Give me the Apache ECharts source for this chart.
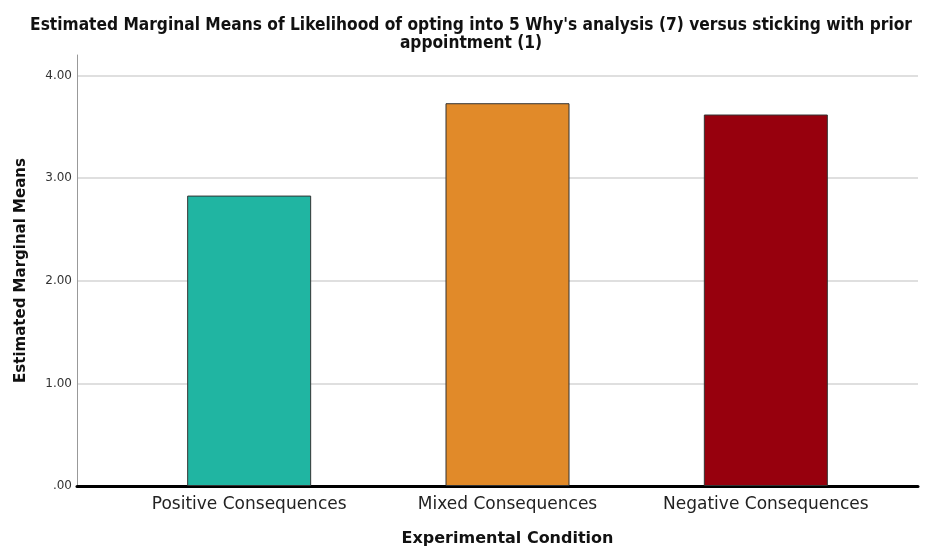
<!DOCTYPE html>
<html><head><meta charset="utf-8">
<script src="https://cdn.jsdelivr.net/npm/echarts@6/dist/echarts.min.js"></script>
<style>html,body{margin:0;padding:0;background:#fff}#c{width:927px;height:550px}</style>
</head><body><div id="c"></div>
<script>
const categories = ["Positive Consequences", "Mixed Consequences", "Negative Consequences"];
const values = [2.83, 3.73, 3.62];
const colors = ["#20b5a2", "#e18a29", "#97000d"];
const yTicks = [0, 1, 2, 3, 4];

const chart = echarts.init(document.getElementById('c'));
const fmt = v => { const s = v.toFixed(2); return s.startsWith('0') ? s.slice(1) : s; };
chart.setOption({
  animation: false,
  title: {
    text: "Estimated Marginal Means of Likelihood of opting into 5 Why's analysis (7) versus sticking with prior\nappointment (1)",
    left: 466, top: 12, textAlign: 'center',
    textStyle: { fontFamily: 'Liberation Sans Narrow, DejaVu Sans Condensed, sans-serif', fontWeight: 'bold', fontSize: 17.2, lineHeight: 18, color: '#111' }
  },
  grid: [
    { left: 77, right: 9, top: 55, bottom: 64, outerBoundsMode: 'none' },
    { left: 120, right: 32, top: 55, bottom: 64, outerBoundsMode: 'none' }
  ],
  xAxis: [
    { type: 'value', gridIndex: 0, min: 0, max: 1, axisLine: { show: true, onZero: false, lineStyle: { color: '#000', width: 3 } },
      axisTick: { show: false }, axisLabel: { show: false }, splitLine: { show: false } },
    { type: 'category', gridIndex: 1, data: categories, axisLine: { show: false }, axisTick: { show: false },
      name: 'Experimental Condition', nameLocation: 'middle', nameGap: 45,
      nameTextStyle: { fontFamily: 'DejaVu Sans, sans-serif', fontWeight: 'bold', fontSize: 16, color: '#111' },
      axisLabel: { interval: 0, fontFamily: 'DejaVu Sans, sans-serif', fontSize: 17, color: '#222', margin: 10 } }
  ],
  yAxis: [
    { type: 'value', gridIndex: 0, min: yTicks[0], max: 4.2, interval: 1,
      axisLine: { show: true, lineStyle: { color: '#999', width: 1 } }, axisTick: { show: false },
      axisLabel: { showMaxLabel: false, formatter: fmt, fontFamily: 'DejaVu Sans, sans-serif', fontSize: 12, color: '#333', margin: 5 },
      splitLine: { show: true, showMaxLine: false, showMinLine: false, lineStyle: { color: '#d4d4d4', width: 1.5 } },
      name: 'Estimated Marginal Means', nameLocation: 'middle', nameGap: 48,
      nameTextStyle: { fontFamily: 'DejaVu Sans, sans-serif', fontWeight: 'bold', fontSize: 15, color: '#111' } },
    { type: 'value', gridIndex: 1, min: 0, max: 4.2, show: false }
  ],
  series: [{
    type: 'bar', xAxisIndex: 1, yAxisIndex: 1, barWidth: 124,
    data: values.map((v, i) => ({ value: v, itemStyle: { color: colors[i] } })),
    itemStyle: { borderColor: '#333', borderWidth: 1 }
  }]
});
</script></body></html>
